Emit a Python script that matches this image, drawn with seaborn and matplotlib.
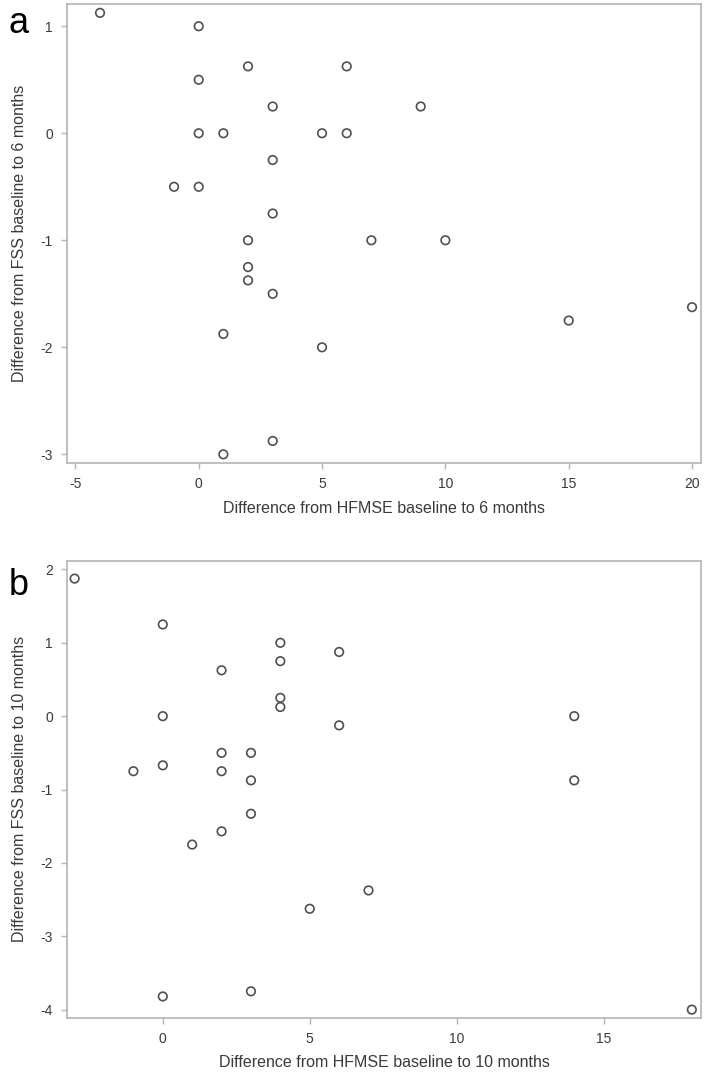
import pandas as pd
import matplotlib
matplotlib.use("Agg")
import matplotlib.pyplot as plt
import seaborn as sns

# panel a: change baseline -> 6 months
hfmse_6m = [-4, 0, 2, 6, 0, 3, 9, 0, 1, 5, 6, 3, -1, 0, 3, 2, 7, 10,
            2, 2, 3, 1, 5, 3, 1, 15, 20]
fss_6m = [1.125, 1.0, 0.625, 0.625, 0.5, 0.25, 0.25, 0.0, 0.0, 0.0, 0.0,
          -0.25, -0.5, -0.5, -0.75, -1.0, -1.0, -1.0, -1.25, -1.375, -1.5,
          -1.875, -2.0, -2.875, -3.0, -1.75, -1.625]

# panel b: change baseline -> 10 months
hfmse_10m = [-3, 0, 2, 4, 4, 6, 4, 4, 0, 6, 2, 3, -1, 0, 2, 3, 14, 14,
             3, 2, 1, 5, 0, 3, 7, 18]
fss_10m = [1.875, 1.25, 0.625, 1.0, 0.75, 0.875, 0.25, 0.125, 0.0, -0.125,
           -0.5, -0.5, -0.75, -0.67, -0.75, -0.875, 0.0, -0.875, -1.33,
           -1.57, -1.75, -2.625, -3.82, -3.75, -2.375, -4.0]

a_xticks = [-5, 0, 5, 10, 15, 20]
a_yticks = [-3, -2, -1, 0, 1]
b_xticks = [0, 5, 10, 15]
b_yticks = [-4, -3, -2, -1, 0, 1, 2]

sns.set_style("white")
plt.rcParams["font.family"] = ["Liberation Sans", "DejaVu Sans"]
plt.rcParams["axes.unicode_minus"] = False

df_a = pd.DataFrame({"x": hfmse_6m, "y": fss_6m})
df_b = pd.DataFrame({"x": hfmse_10m, "y": fss_10m})

fig = plt.figure(figsize=(7.08, 10.74), dpi=100)
ax_a = fig.add_axes([0.0946, 0.569, 0.8954, 0.4273])
ax_b = fig.add_axes([0.0946, 0.0524, 0.8954, 0.4256])

text_col = "#3a3a3a"
spine_col = "#b4b4b4"


def draw(ax, df, xlabel, ylabel, xticks, yticks, xlim, ylim, letter, letter_y):
    sns.scatterplot(data=df, x="x", y="y", ax=ax, marker="o", s=38,
                    facecolors="none", edgecolor="#505050", linewidth=1.2)
    ax.set_xlim(*xlim)
    ax.set_ylim(*ylim)
    ax.set_xticks(xticks)
    ax.set_yticks(yticks)
    ax.set_xlabel(xlabel, fontsize=11.5, color=text_col, labelpad=7)
    ax.set_ylabel(ylabel, fontsize=11.5, color=text_col, labelpad=10)
    ax.tick_params(axis="both", direction="out", length=4, width=1,
                   color=spine_col, labelsize=10, labelcolor=text_col,
                   bottom=True, left=True, pad=6)
    for sp in ax.spines.values():
        sp.set_color(spine_col)
        sp.set_linewidth(1.2)
    fig.text(0.012, letter_y, letter, fontsize=26, color="black",
             ha="left", va="baseline")


draw(ax_a, df_a, "Difference from HFMSE baseline to 6 months",
     "Difference from FSS baseline to 6 months", a_xticks, a_yticks,
     (-5.34, 20.36), (-3.08, 1.208), "a", 0.969)
draw(ax_b, df_b, "Difference from HFMSE baseline to 10 months",
     "Difference from FSS baseline to 10 months", b_xticks, b_yticks,
     (-3.26, 18.31), (-4.11, 2.12), "b", 0.446)

fig.savefig("out.png", dpi=100)
